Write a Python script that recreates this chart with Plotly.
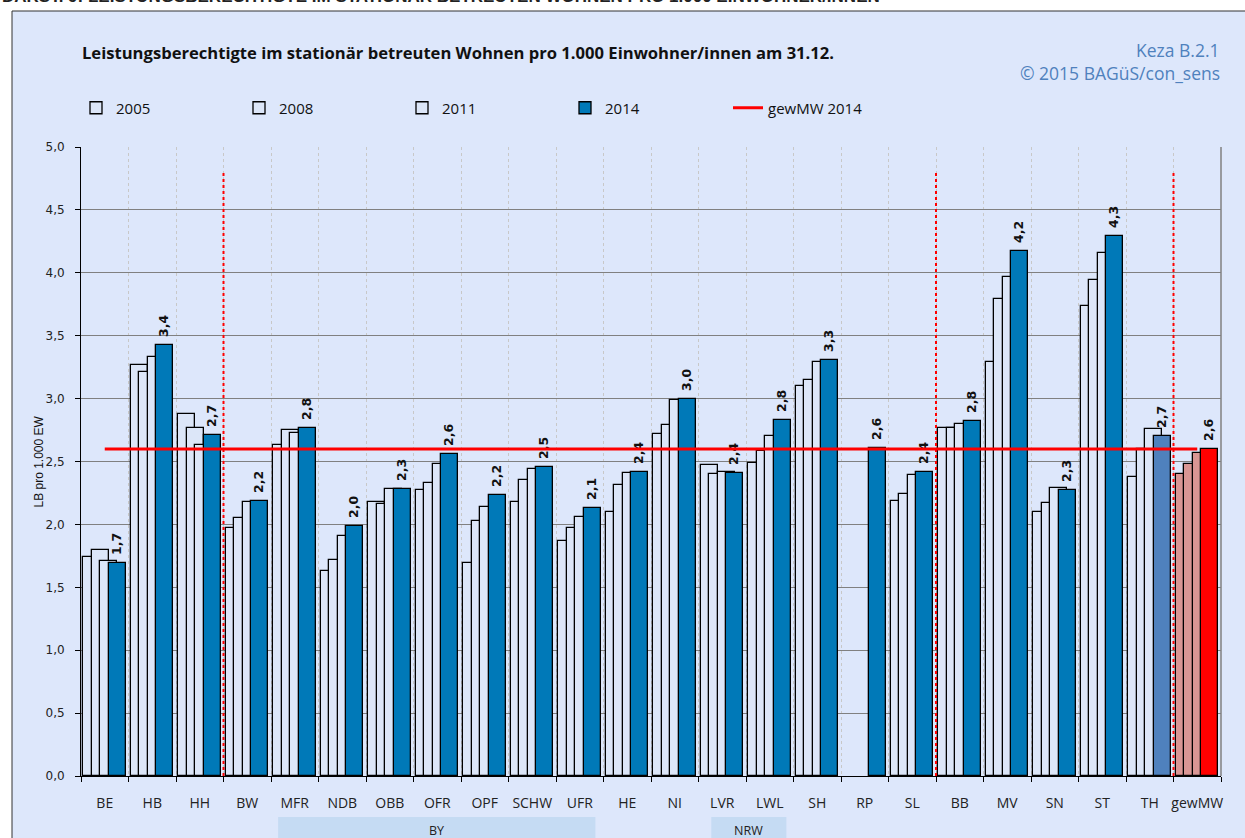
import plotly.graph_objects as go

categories = ["BE", "HB", "HH", "BW", "MFR", "NDB", "OBB", "OFR", "OPF", "SCHW", "UFR", "HE",
              "NI", "LVR", "LWL", "SH", "RP", "SL", "BB", "MV", "SN", "ST", "TH", "gewMW"]
v2005 = [1.74, 3.27, 2.88, 1.97, 2.63, 1.63, 2.18, 2.27, 1.69, 2.18, 1.87, 2.10,
         2.72, 2.47, 2.49, 3.10, None, 2.19, 2.77, 3.29, 2.10, 3.74, 2.38, 2.40]
v2008 = [1.80, 3.21, 2.77, 2.05, 2.75, 1.72, 2.16, 2.33, 2.03, 2.35, 1.97, 2.31,
         2.79, 2.40, 2.58, 3.15, None, 2.24, 2.77, 3.79, 2.17, 3.94, 2.60, 2.48]
v2011 = [1.71, 3.33, 2.63, 2.18, 2.73, 1.91, 2.28, 2.48, 2.14, 2.44, 2.06, 2.41,
         2.99, 2.42, 2.70, 3.29, None, 2.39, 2.80, 3.97, 2.29, 4.16, 2.76, 2.57]
v2014 = [1.69, 3.43, 2.71, 2.19, 2.77, 1.99, 2.28, 2.56, 2.23, 2.46, 2.13, 2.42,
         3.00, 2.41, 2.83, 3.31, 2.61, 2.42, 2.82, 4.17, 2.27, 4.29, 2.70, 2.60]
gewmw_2014 = 2.60
series_names = ["2005", "2008", "2011", "2014"]
separators_after = ["HH", "SL", "TH"]
groups = [("BY", "MFR", "UFR"), ("NRW", "LVR", "LWL")]
yticks = [0, 0.5, 1, 1.5, 2, 2.5, 3, 3.5, 4, 4.5, 5]

# layout constants (pixels)
W, H = 1245, 838
L, R, T, B = 81, 24, 147, 62
PW, PH = W - L - R, H - T - B
BG = "#DDE7FB"
LIGHT = "#DCE6F8"
DARK = "#0079B8"


def px_x(p):
    return (p - L) / PW


def px_y(p):
    return (H - B - p) / PH


n = len(categories)
light_cols = [LIGHT] * n
light_cols[-1] = "#D99694"
dark_cols = [DARK] * n
dark_cols[categories.index("TH")] = "#4F81BD"
dark_cols[-1] = "#FF0000"

bw = 0.358
offsets = [-0.458, -0.277, -0.096, 0.085]

fig = go.Figure()
for name, vals, off in zip(series_names, [v2005, v2008, v2011, v2014], offsets):
    is_last = name == "2014"
    fig.add_trace(go.Bar(
        x=categories, y=vals, name=name,
        offset=off, width=bw,
        marker=dict(color=dark_cols if is_last else light_cols,
                    line=dict(color="black", width=1.3)),
        texttemplate="\u00a0%{y:.1f}" if is_last else None,
        textposition="outside" if is_last else "none",
        textangle=-90,
        textfont=dict(family="DejaVu Sans", size=12.5, color="#111", weight="bold"),
        constraintext="none",
        cliponaxis=False,
    ))

fig.add_trace(go.Scatter(
    x=categories, y=[gewmw_2014] * n, mode="lines", name="gewMW 2014",
    line=dict(color="#FF0000", width=3),
))

shapes = []
# background frame
shapes.append(dict(type="rect", xref="paper", yref="paper",
                   x0=px_x(12), x1=px_x(1300), y0=px_y(900), y1=px_y(11),
                   fillcolor=BG, line=dict(color="#333", width=1), layer="below"))
# right plot edge
shapes.append(dict(type="line", xref="paper", yref="paper", x0=1, x1=1, y0=0, y1=1,
                   line=dict(color="#808080", width=1.5)))
# separators
for c in separators_after:
    xi = categories.index(c) + 0.5
    shapes.append(dict(type="line", xref="x", yref="y", x0=xi, x1=xi, y0=0, y1=4.8,
                       line=dict(color="#FF0000", width=2, dash="dot")))
# group bands
band_pad = {"BY": (0.15, 0.17), "NRW": (0.27, 0.15)}
annotations = []
for label, a, b in groups:
    ia, ib = categories.index(a), categories.index(b)
    x0 = ia - 0.5 + band_pad[label][0]
    x1 = ib + 0.5 - band_pad[label][1]
    shapes.append(dict(type="rect", xref="x", yref="paper", x0=x0, x1=x1,
                       y0=px_y(850), y1=px_y(817), fillcolor="#C5DBF3",
                       line=dict(width=0), layer="below"))
    annotations.append(dict(xref="x", yref="paper", x=(x0 + x1) / 2, y=px_y(830),
                            text=label, showarrow=False, xanchor="center", yanchor="middle",
                            font=dict(family="Open Sans", size=12.5, color="#222")))

annotations += [
    dict(xref="paper", yref="paper", x=px_x(0), y=px_y(-3), xanchor="left", yanchor="middle",
         text="<b>DARST. 9: LEISTUNGSBERECHTIGTE IM STATIONÄR BETREUTEN WOHNEN PRO 1.000 EINWOHNER/INNEN</b>",
         showarrow=False, font=dict(family="Liberation Sans", size=17, color="#222")),
    dict(xref="paper", yref="paper", x=px_x(80), y=px_y(52), xanchor="left", yanchor="middle",
         text="<b>Leistungsberechtigte im stationär betreuten Wohnen pro 1.000 Einwohner/innen am 31.12.</b>",
         showarrow=False, font=dict(family="Open Sans", size=16.6, color="#111")),
    dict(xref="paper", yref="paper", x=px_x(1222), y=px_y(50), xanchor="right", yanchor="middle",
         text="Keza B.2.1", showarrow=False,
         font=dict(family="Open Sans", size=17.5, color="#4F81BD")),
    dict(xref="paper", yref="paper", x=px_x(1222), y=px_y(73), xanchor="right", yanchor="middle",
         text="© 2015 BAGüS/con_sens", showarrow=False,
         font=dict(family="Open Sans", size=17.5, color="#4F81BD")),
    dict(xref="paper", yref="paper", x=px_x(38), y=0.5, xanchor="center", yanchor="middle",
         text="LB pro 1.000 EW", textangle=-90, showarrow=False,
         font=dict(family="Liberation Sans Narrow, Liberation Sans", size=12, color="#111")),
]

fig.update_layout(
    width=W, height=H,
    margin=dict(l=L, r=R, t=T, b=B),
    paper_bgcolor="white", plot_bgcolor="white",
    barmode="overlay", bargap=0,
    separators=",.",
    showlegend=True,
    legend=dict(orientation="h", x=px_x(76), y=px_y(108), xanchor="left", yanchor="middle",
                entrywidth=118, entrywidthmode="pixels", bgcolor="rgba(0,0,0,0)",
                font=dict(family="Open Sans", size=15, color="#111"), itemwidth=30,
                traceorder="normal"),
    shapes=shapes, annotations=annotations,
    xaxis=dict(type="category", tickson="boundaries", ticks="outside", ticklen=5,
               tickcolor="black", showline=True, linecolor="black", linewidth=1,
               showgrid=True, gridcolor="#C8C8C8", griddash="dot", gridwidth=1,
               tickangle=0, ticklabelstandoff=14,
               tickfont=dict(family="Open Sans", size=14, color="#222"),
               range=[-0.5, n - 0.5]),
    yaxis=dict(range=[0, 5], tickvals=yticks, tickformat=".1f", ticks="outside", ticklen=5,
               tickcolor="black", showline=True, linecolor="black", linewidth=1,
               showgrid=True, gridcolor="#808080", gridwidth=1, zeroline=False,
               ticklabelstandoff=8,
               tickfont=dict(family="DejaVu Sans", size=12, color="#222")),
    font=dict(family="Open Sans"),
)

fig.write_html("out.html", config={"displayModeBar": False},
               post_script="document.body.style.margin='0';")
